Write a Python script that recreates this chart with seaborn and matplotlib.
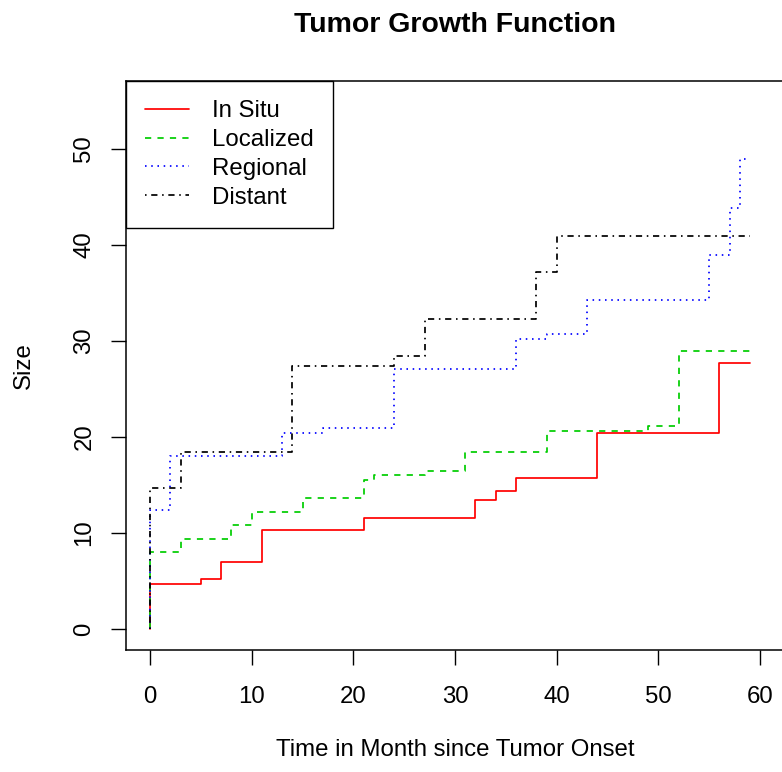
import matplotlib
matplotlib.use("Agg")
import matplotlib.pyplot as plt
import seaborn as sns
import pandas as pd

# ---- data ----
series_names = ["In Situ", "Localized", "Regional", "Distant"]

insitu_t = [0, 0, 5, 7, 11, 21, 32, 34, 36, 44, 56, 59]
insitu_y = [0, 4.7, 5.2, 7.0, 10.3, 11.6, 13.4, 14.4, 15.7, 20.4, 27.7, 27.7]

local_t = [0, 0, 3, 8, 10, 15, 21, 22, 27, 31, 39, 49, 52, 59]
local_y = [0, 8.0, 9.4, 10.8, 12.2, 13.6, 15.5, 16.0, 16.5, 18.4, 20.6, 21.1, 29.0, 29.0]

regional_t = [0, 0, 2, 13, 17, 24, 36, 39, 43, 55, 57, 58, 59]
regional_y = [0, 12.4, 18.0, 20.4, 20.9, 27.1, 30.2, 30.7, 34.3, 39.0, 43.9, 49.0, 49.0]

distant_t = [0, 0, 3, 14, 24, 27, 38, 40, 59]
distant_y = [0, 14.7, 18.4, 27.4, 28.4, 32.3, 37.2, 40.9, 40.9]

x_ticks = [0, 10, 20, 30, 40, 50, 60]
y_ticks = [0, 10, 20, 30, 40, 50]

colors = ["#FF0000", "#00CD00", "#0000FF", "#000000"]

sns.set_style("white")
plt.rcParams["font.family"] = ["Liberation Sans", "DejaVu Sans"]
plt.rcParams["text.color"] = "black"
plt.rcParams["axes.labelcolor"] = "black"
plt.rcParams["xtick.color"] = "black"
plt.rcParams["ytick.color"] = "black"
plt.rcParams["lines.scale_dashes"] = False

FS = 17.28

u = 1.12  # dash unit in points
styles = ["-", (0, (4 * u, 4 * u)), (0, (u, 3 * u)), (0, (u, 3 * u, 4 * u, 3 * u))]

fig = plt.figure(figsize=(7.82, 7.72), dpi=100)
W, H = 782, 772
left, right, top, bottom = 125.7, 784.4, 81, 650
ax = fig.add_axes([left / W, 1 - bottom / H, (right - left) / W, (bottom - top) / H])

all_t = [insitu_t, local_t, regional_t, distant_t]
all_y = [insitu_y, local_y, regional_y, distant_y]
for name, t, y, c, ls in zip(series_names, all_t, all_y, colors, styles):
    df = pd.DataFrame({"t": t, "y": y})
    sns.lineplot(data=df, x="t", y="y", ax=ax, color=c, linestyle=ls,
                 linewidth=1.25, drawstyle="steps-post", estimator=None,
                 sort=False, label=name, legend=False)

ax.set_xlim(-2.4, 62.4)
ax.set_ylim(-2.19, 57.08)
ax.set_xticks(x_ticks)
ax.set_yticks(y_ticks)
ax.set_xticklabels([str(v) for v in x_ticks])
ax.set_yticklabels([str(v) for v in y_ticks])

for s in ax.spines.values():
    s.set_color("black")
    s.set_linewidth(1.1)

ax.tick_params(axis="both", which="major", direction="out", length=10.8,
               width=1.0, color="black", labelsize=FS, labelcolor="black",
               bottom=True, left=True)
ax.tick_params(axis="x", pad=15)
ax.tick_params(axis="y", pad=11, labelrotation=90)
for lab in ax.get_yticklabels():
    lab.set_va("center")

ax.set_xlabel("Time in Month since Tumor Onset", fontsize=FS, va="center")
ax.xaxis.set_label_coords(0.5, -(750 - bottom) / (bottom - top))
ax.set_ylabel("Size", fontsize=FS, va="center", ha="center")
ax.yaxis.set_label_coords(-(left - 24) / (right - left), 0.5)

ax.set_title("Tumor Growth Function", fontsize=20.5, fontweight="bold", pad=35)

handles = ax.get_lines()[:4]
leg = ax.legend(handles, series_names, loc="upper left", bbox_to_anchor=(0, 1),
                borderaxespad=0, fancybox=False, framealpha=1, edgecolor="black",
                fontsize=FS, handlelength=1.83, handletextpad=0.96,
                labelspacing=0.28, borderpad=0.81)
leg.get_frame().set_linewidth(1.0)

fig.savefig("out.png", dpi=100)
